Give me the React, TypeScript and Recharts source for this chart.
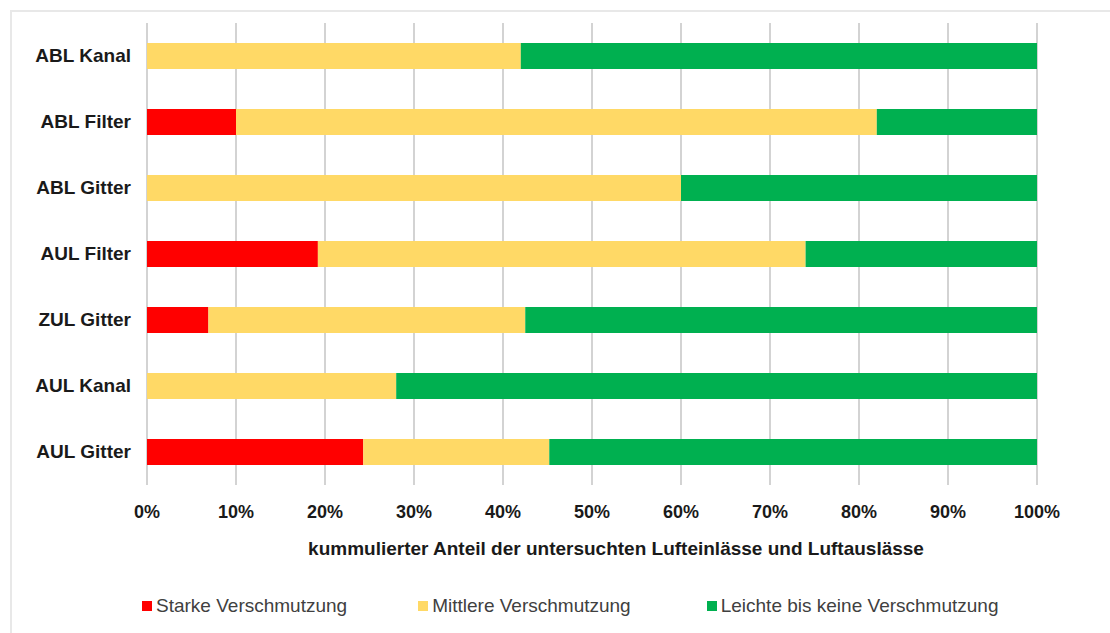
import { Bar, BarChart, CartesianGrid, Label, Legend, XAxis, YAxis } from "recharts";

const CATEGORIES = ["ABL Kanal", "ABL Filter", "ABL Gitter", "AUL Filter", "ZUL Gitter", "AUL Kanal", "AUL Gitter"];
const STARKE = [0, 10, 0, 19.2, 6.9, 0, 24.3];
const MITTLERE = [42, 72, 60, 54.8, 35.6, 28, 20.9];
const LEICHTE = [58, 18, 40, 26, 57.5, 72, 54.8];
const X_TICKS = [0, 10, 20, 30, 40, 50, 60, 70, 80, 90, 100];

const SERIES = [
  { key: "starke", name: "Starke Verschmutzung", color: "#FF0000" },
  { key: "mittlere", name: "Mittlere Verschmutzung", color: "#FFD966" },
  { key: "leichte", name: "Leichte bis keine Verschmutzung", color: "#00B050" },
];

const data = CATEGORIES.map((name, i) => ({
  name,
  starke: STARKE[i],
  mittlere: MITTLERE[i],
  leichte: LEICHTE[i],
}));

const FONT = "'Liberation Sans', Arial, sans-serif";

function ChartLegend() {
  return (
    <div style={{ display: "flex", alignItems: "center", height: 30, fontFamily: FONT, fontSize: 19, color: "#404040" }}>
      {SERIES.map((s, i) => (
        <div key={s.key} style={{ display: "flex", alignItems: "center", marginLeft: i === 0 ? 0 : i === 1 ? 71 : 76 }}>
          <span style={{ width: 10, height: 10, background: s.color, marginRight: 4, display: "inline-block" }} />
          <span>{s.name}</span>
        </div>
      ))}
    </div>
  );
}

export default function App() {
  return (
    <div style={{ position: "absolute", left: 0, top: 0, width: 1110, height: 633, background: "#fff", overflow: "hidden" }}>
      <div
        style={{
          position: "absolute",
          left: 10,
          top: 10,
          width: 1120,
          height: 640,
          borderTop: "2px solid #E8E8E8",
          borderLeft: "2px solid #E8E8E8",
        }}
      />
      <div style={{ position: "absolute", left: 0, top: 0 }}>
        <BarChart
          width={1110}
          height={633}
          data={data}
          layout="vertical"
          margin={{ top: 23, right: 73, bottom: 38, left: 0 }}
          barSize={26}
        >
          <CartesianGrid horizontal={false} stroke="#C4C4C4" strokeWidth={1.5} />
          <XAxis
            type="number"
            domain={[0, 100]}
            ticks={X_TICKS}
            tickFormatter={(v: number) => `${v}%`}
            axisLine={false}
            tickLine={false}
            tickSize={0}
            tickMargin={20}
            height={80}
            tick={{ fill: "#1a1a1a", fontSize: 18, fontWeight: "bold", fontFamily: FONT }}
          >
            <Label
              value="kummulierter Anteil der untersuchten Lufteinlässe und Luftauslässe"
              position="insideBottom"
              offset={10}
              dx={24}
              style={{ fill: "#1a1a1a", fontSize: 19, fontWeight: "bold", fontFamily: FONT }}
            />
          </XAxis>
          <YAxis
            type="category"
            dataKey="name"
            width={147}
            axisLine={false}
            tickLine={false}
            tickSize={0}
            tickMargin={16}
            dy={-1}
            tick={{ fill: "#1a1a1a", fontSize: 19, fontWeight: "bold", fontFamily: FONT }}
          />
          {SERIES.map((s) => (
            <Bar key={s.key} dataKey={s.key} name={s.name} stackId="a" fill={s.color} isAnimationActive={false} />
          ))}
          <Legend
            verticalAlign="bottom"
            content={() => <ChartLegend />}
            wrapperStyle={{ left: 142, top: 591, width: "auto" }}
          />
        </BarChart>
      </div>
    </div>
  );
}
